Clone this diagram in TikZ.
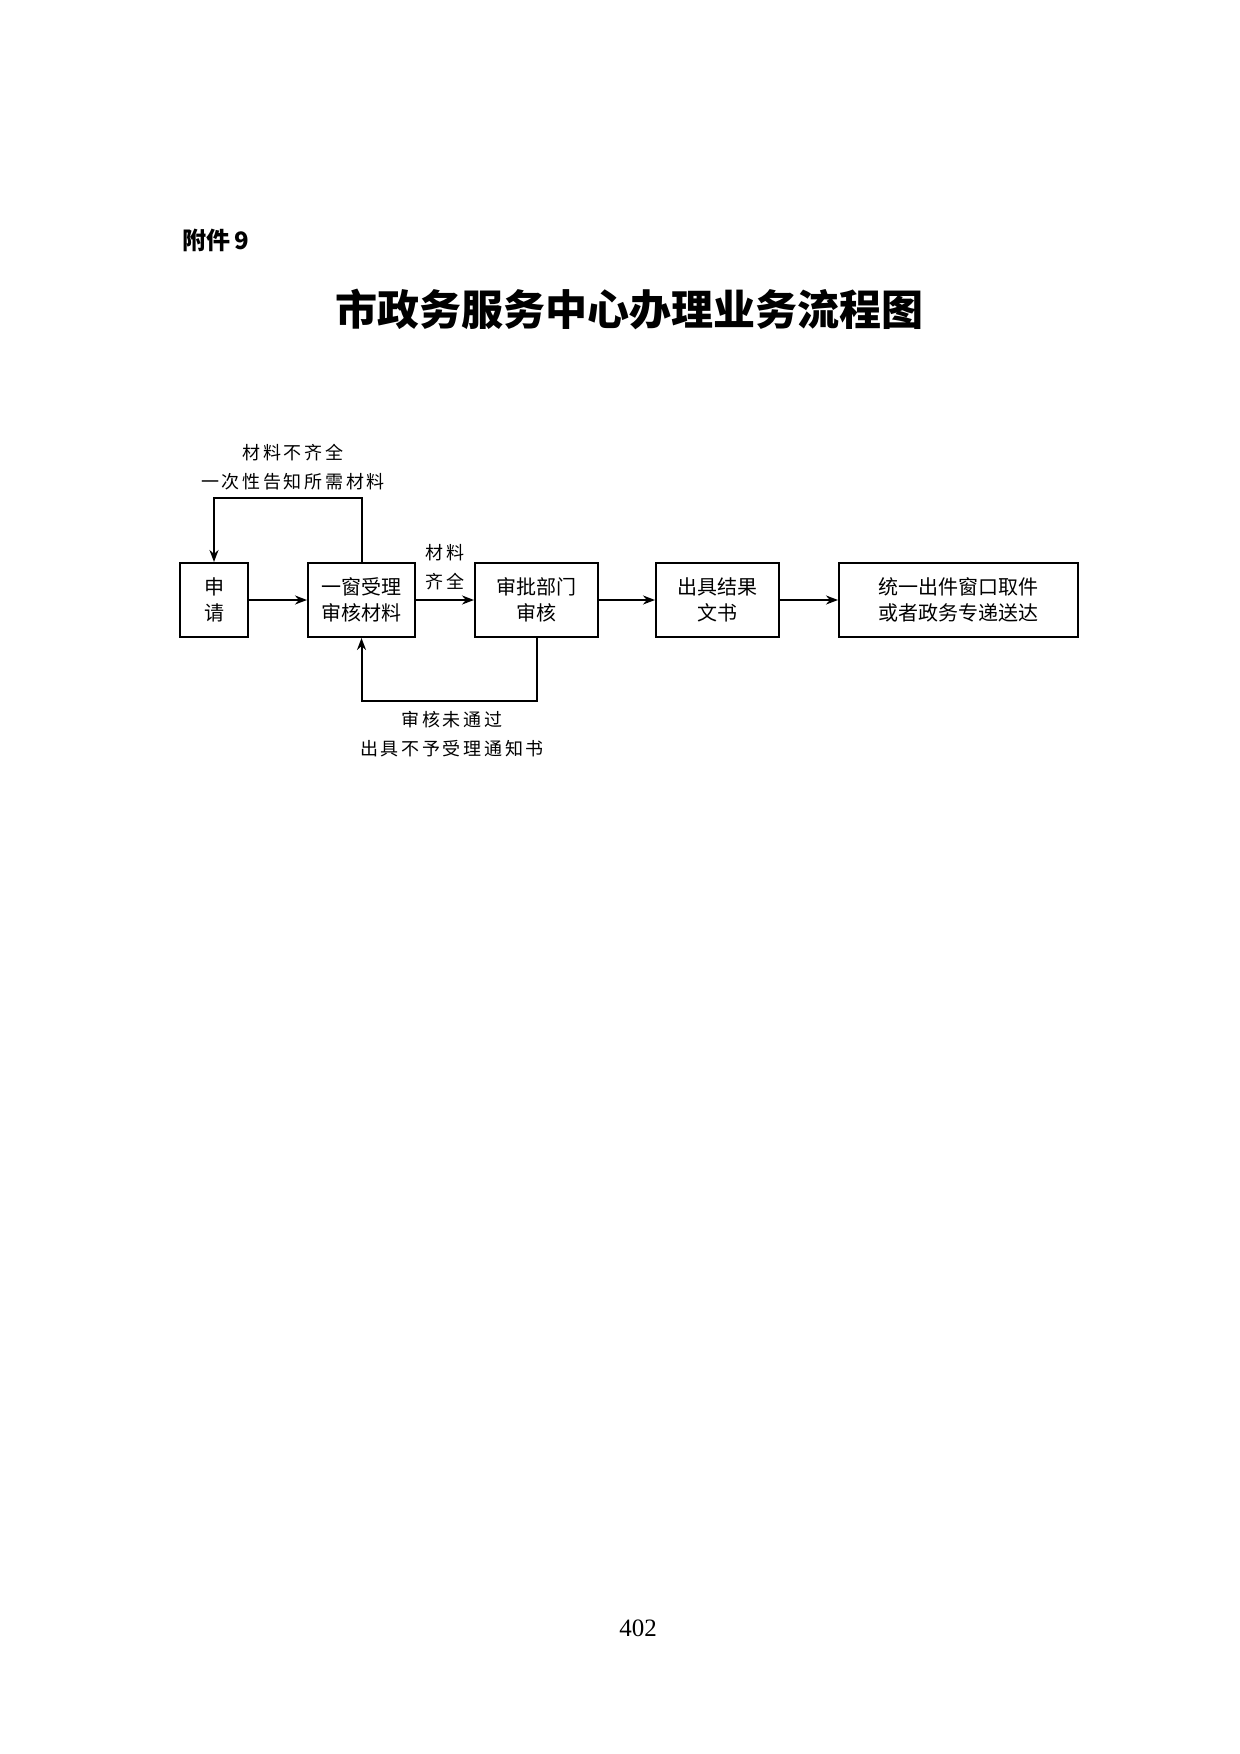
\documentclass[tikz,border=0pt]{standalone}
\usepackage{fontspec}
\setmainfont{Noto Sans CJK SC}
\newfontfamily\labelfont[LetterSpace=15]{Noto Sans CJK SC}
\newfontfamily\pagefont{Liberation Serif}
\usetikzlibrary{arrows.meta}

\begin{document}
\begin{tikzpicture}
    [x=0.5pt, y=-0.5pt,
     box/.style={draw, line width=1pt, inner sep=0pt,
       minimum height=37pt, align=center,
       font=\fontsize{10}{13}\selectfont},
     flow/.style={-{Stealth[length=6pt,width=4.5pt]}, line width=1pt},
     note/.style={align=center, font=\labelfont\fontsize{9}{14.5}\selectfont}]
    \useasboundingbox[fill=white] (0,0) rectangle (1240,1754);

    % heading
    \node[anchor=west, inner sep=0pt, font=\bfseries\fontsize{12}{15}\selectfont] (annex) at (182,240) {附件\,9};
    \node[font=\bfseries\fontsize{21}{25}\selectfont] (title) at (629,309) {市政务服务中心办理业务流程图};

    % boxes
    \node[box, minimum width=34pt] (apply) at (214,600) {申\\请};
    \node[box, minimum width=53.5pt] (accept) at (361.5,600) {一窗受理\\审核材料};
    \node[box, minimum width=61.5pt] (review) at (536.5,600) {审批部门\\审核};
    \node[box, minimum width=61.5pt] (issue) at (717.5,600) {出具结果\\文书};
    \node[box, minimum width=119.5pt] (deliver) at (958.5,600) {统一出件窗口取件\\或者政务专递送达};

    \foreach \a/\b in {apply/accept, accept/review, review/issue, issue/deliver}
      \draw[flow] (\a) -- (\b);

    % return loops
    \draw[flow] (accept.north) -- ++(0,-64) -| (apply.north);
    \draw[flow] (review.south) -- ++(0,63) -| (accept.south);

    \node[note] (missing) at (293,467) {材料不齐全\\一次性告知所需材料};
    \node[note] (complete) at (445,567) {材料\\齐全};
    \node[note] (rejected) at (452,734) {审核未通过\\出具不予受理通知书};

    \node[font=\pagefont\fontsize{12.5}{15}\selectfont] (page) at (638,1628) {402};
  \end{tikzpicture}
\end{document}
